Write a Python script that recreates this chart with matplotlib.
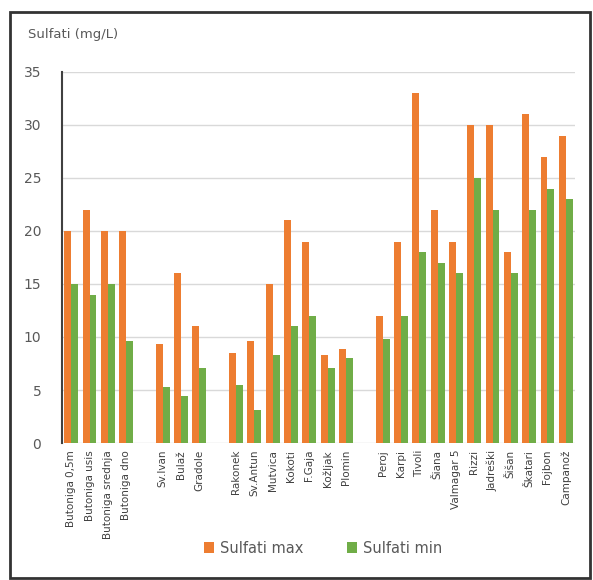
import numpy as np
import matplotlib
matplotlib.use('Agg')
import matplotlib.pyplot as plt
from matplotlib.patches import Rectangle

# Categories (empty strings are the gaps between groups)
sites = ['Butoniga 0,5m', 'Butoniga usis', 'Butoniga srednja', 'Butoniga dno', '',
         'Sv.Ivan', 'Bulaž', 'Gradole', '',
         'Rakonek', 'Sv.Antun', 'Mutvica', 'Kokoti', 'F.Gaja', 'Kožljak', 'Plomin', '',
         'Peroj', 'Karpi', 'Tivoli', 'Šiana', 'Valmagar 5', 'Rizzi', 'Jadreški',
         'Šišan', 'Škatari', 'Fojbon', 'Campanož']
nan = np.nan
sulfati_max = [20, 22, 20, 20, nan,
               9.3, 16, 11, nan,
               8.5, 9.6, 15, 21, 19, 8.3, 8.9, nan,
               12, 19, 33, 22, 19, 30, 30, 18, 31, 27, 29]
sulfati_min = [15, 14, 15, 9.6, nan,
               5.3, 4.4, 7.1, nan,
               5.5, 3.1, 8.3, 11, 12, 7.1, 8, nan,
               9.8, 12, 18, 17, 16, 25, 22, 16, 22, 24, 23]
yticks = [0, 5, 10, 15, 20, 25, 30, 35]

fig = plt.figure(figsize=(5.93, 5.80), dpi=100)
ax = fig.add_axes([0.1046, 0.2362, 0.865, 0.6397])

x = np.arange(len(sites))
w = 0.38
ax.bar(x - w / 2, sulfati_max, width=w, color='#ED7D31', label='Sulfati max', zorder=3)
ax.bar(x + w / 2, sulfati_min, width=w, color='#70AD47', label='Sulfati min', zorder=3)

ax.set_xlim(-0.5, len(sites) - 0.5)
ax.set_ylim(0, 35)
ax.set_yticks(yticks)
ax.set_yticklabels([str(t) for t in yticks], fontsize=10, color='#595959')
ax.set_xticks(x)
ax.set_xticklabels(sites, rotation=90, fontsize=7.5, color='#404040')
ax.tick_params(axis='both', length=0, pad=5)
ax.tick_params(axis='y', pad=15)
ax.grid(axis='y', color='#d9d9d9', linewidth=1, zorder=0)
for s in ['top', 'right', 'bottom']:
    ax.spines[s].set_visible(False)
ax.spines['left'].set_color('#404040')
ax.spines['left'].set_linewidth(1.5)

fig.text(0.047, 0.94, 'Sulfati (mg/L)', fontsize=9.5, color='#595959', va='center')

fig.legend(loc='center', bbox_to_anchor=(0.545, 0.055), ncol=2, frameon=False,
           fontsize=10.5, handlelength=0.7, handleheight=0.7, columnspacing=3.0,
           handletextpad=0.4, labelcolor='#595959')

fig.patches.append(Rectangle((0.017, 0.004), 0.978, 0.975, transform=fig.transFigure,
                             fill=False, edgecolor='#333333', linewidth=2))

fig.savefig('out.png', dpi=100)
